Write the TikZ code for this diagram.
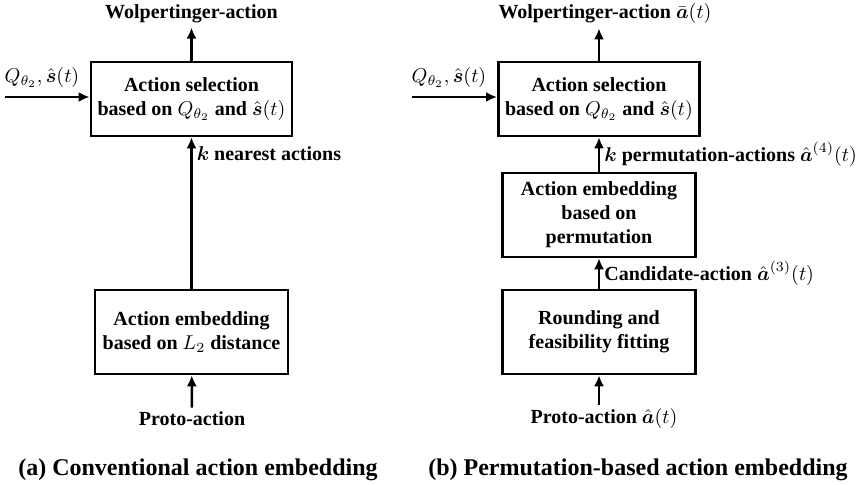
\documentclass[tikz,border=0pt]{standalone}
\usepackage{amsmath}
\usepackage{amssymb}
\usepackage{fontspec}
\setmainfont{Liberation Serif}[BoldFont={Liberation Serif Bold}, ItalicFont={Liberation Serif Italic}]
\usetikzlibrary{arrows, arrows.meta, positioning}
\tikzstyle{block} = [rectangle, draw, line width=1.3pt, minimum width=96.5pt, minimum height=37pt, align=center, font=\bfseries\fontsize{10}{12}\selectfont]
\tikzstyle{txt} = [inner sep=2pt, font=\bfseries\fontsize{10}{12}\selectfont]
\tikzstyle{caption} = [inner sep=0pt, font=\bfseries\fontsize{12}{14}\selectfont]
\tikzstyle{line} = [draw, line width=1.3pt, -{Latex[length=5.5pt, width=5pt]}]

\begin{document}
\begin{tikzpicture}[x=0.5pt, y=-0.5pt]
    \useasboundingbox (0,0) rectangle (861,485);

    % (a) conventional
    \node[block] (sela) at (191.5,99) {Action selection\\based on $Q_{\theta_2}$ and $\hat{\boldsymbol{s}}(t)$};
    \node[block, minimum height=42pt] (emba) at (191.5,332) {Action embedding\\based on $L_2$ distance};
    \node[txt] (wola) at (191.5,14) {Wolpertinger-action};
    \node[txt] (protoa) at (192,419) {Proto-action};
    \node[txt] (qa) at (42,78) {$Q_{\theta_2},\hat{\boldsymbol{s}}(t)$};
    \coordinate (ina) at (5,97);

    \path[line] (sela) -- (sela |- wola.south);
    \path[line] (protoa) -- (emba);
    \path[line] (emba) -- node[txt, pos=0.89, anchor=west] {$\boldsymbol{k}$ nearest actions} (sela);
    \path[line] (ina) -- (ina -| sela.west);

    % (b) permutation-based
    \node[block] (selb) at (599,99) {Action selection\\based on $Q_{\theta_2}$ and $\hat{\boldsymbol{s}}(t)$};
    \node[block, minimum height=42pt] (permb) at (599,215) {Action embedding\\based on\\permutation};
    \node[block, minimum height=42pt] (roundb) at (599,332) {Rounding and\\feasibility fitting};
    \node[txt] (wolb) at (605,14) {Wolpertinger-action $\bar{\boldsymbol{a}}(t)$};
    \node[txt] (protob) at (604,419) {Proto-action $\hat{\boldsymbol{a}}(t)$};
    \node[txt] (qb) at (449,78) {$Q_{\theta_2},\hat{\boldsymbol{s}}(t)$};
    \coordinate (inb) at (412,97);

    \path[line] (selb) -- (selb |- wolb.south);
    \path[line] (protob.north -| roundb) -- (roundb);
    \path[line] (roundb) -- node[txt, anchor=west] {Candidate-action $\hat{\boldsymbol{a}}^{(3)}(t)$} (permb);
    \path[line] (permb) -- node[txt, anchor=west] {$\boldsymbol{k}$ permutation-actions $\hat{\boldsymbol{a}}^{(4)}(t)$} (selb);
    \path[line] (inb) -- (inb -| selb.west);

    % captions
    \node[caption] (capa) at (198,470) {(a) Conventional action embedding};
    \node[caption] (capb) at (638,470) {(b) Permutation-based action embedding};
\end{tikzpicture}
\end{document}
